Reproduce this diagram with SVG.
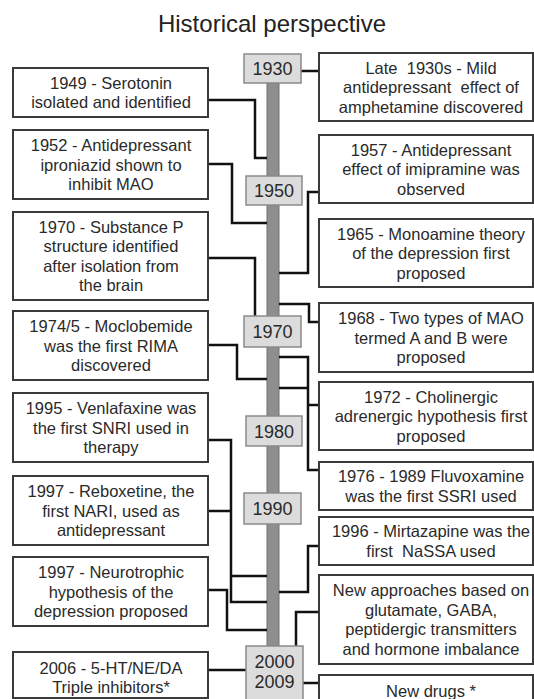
<svg xmlns="http://www.w3.org/2000/svg" width="534" height="699" viewBox="0 0 534 699">
<style>
  .box { fill: #ffffff; stroke: #3a3a3a; stroke-width: 2; }
  .yr { fill: #dcdcdc; stroke: #8a8a8a; stroke-width: 1.5; }
  .t { font-family: "Liberation Sans", Arial, sans-serif; font-size: 16.5px; fill: #2a2a2a; text-anchor: middle; white-space: pre; }
  .yt { font-family: "Liberation Sans", Arial, sans-serif; font-size: 18px; fill: #2a2a2a; text-anchor: middle; }
  .title { font-family: "Liberation Sans", Arial, sans-serif; font-size: 24px; fill: #222; text-anchor: middle; }
  .c { fill: none; stroke: #111; stroke-width: 2.5; stroke-linejoin: miter; stroke-linecap: butt; }
</style>
<rect width="534" height="699" fill="#ffffff"/>
<text class="title" x="272" y="32">Historical perspective</text>

<g id="spine">
  <rect x="267" y="83" width="12" height="565" fill="#8e8e8e" stroke="#707070" stroke-width="1"/>
</g>

<g id="connectors">
  <path class="c" d="M208,100 H255 V158 H267"/>
  <path class="c" d="M208,164 H232 V223 H267"/>
  <path class="c" d="M301,71 H319"/>
  <path class="c" d="M319,192 H308 V273 H279"/>
  <path class="c" d="M208,258 H255 V316"/>
  <path class="c" d="M279,304 H309 V322 H319"/>
  <path class="c" d="M208,345 H237 V379 H267"/>
  <path class="c" d="M279,357 H308 V470 H319 M279,388 H308 M308,405 H319"/>
  <path class="c" d="M208,440 H231 V602 H267 M208,511 H231 M231,576 H267"/>
  <path class="c" d="M208,590 H227 V630 H267"/>
  <path class="c" d="M319,546 H308 V592 H279"/>
  <path class="c" d="M319,612 H296 V646"/>
  <path class="c" d="M208,670 H246"/>
  <path class="c" d="M303,683 H319"/>
</g>

<g id="y1930"><rect class="yr" x="244" y="54" width="57" height="29"/><text class="yt" x="272.5" y="75">1930</text></g>
<g id="y1950"><rect class="yr" x="246" y="176" width="56" height="29"/><text class="yt" x="274" y="197">1950</text></g>
<g id="y1970"><rect class="yr" x="244" y="316" width="57" height="31"/><text class="yt" x="272.5" y="338">1970</text></g>
<g id="y1980"><rect class="yr" x="246" y="416" width="56" height="30"/><text class="yt" x="274" y="437.5">1980</text></g>
<g id="y1990"><rect class="yr" x="244" y="493" width="57" height="31"/><text class="yt" x="272.5" y="515">1990</text></g>
<g id="y2000"><rect class="yr" x="246" y="646" width="57" height="60"/><text class="yt" x="274.5" y="668">2000</text><text class="yt" x="274.5" y="688">2009</text></g>

<g id="l1949"><rect class="box" x="13" y="68" width="195" height="49"/>
  <text class="t" x="111" y="88.75">1949 - Serotonin</text><text class="t" x="111" y="108.25">isolated and identified</text></g>
<g id="l1952"><rect class="box" x="13" y="130" width="195" height="69"/>
  <text class="t" x="111" y="151">1952 - Antidepressant</text><text class="t" x="111" y="170.5">iproniazid shown to</text><text class="t" x="111" y="190">inhibit MAO</text></g>
<g id="l1970"><rect class="box" x="13" y="212" width="195" height="88"/>
  <text class="t" x="111" y="232.75">1970 - Substance P</text><text class="t" x="111" y="252.25">structure identified</text><text class="t" x="111" y="271.75">after isolation from</text><text class="t" x="111" y="291.25">the brain</text></g>
<g id="l1974"><rect class="box" x="13" y="311" width="195" height="69"/>
  <text class="t" x="111" y="332">1974/5 - Moclobemide</text><text class="t" x="111" y="351.5">was the first RIMA</text><text class="t" x="111" y="371">discovered</text></g>
<g id="l1995"><rect class="box" x="13" y="393" width="195" height="69"/>
  <text class="t" x="111" y="414">1995 - Venlafaxine was</text><text class="t" x="111" y="433.5">the first SNRI used in</text><text class="t" x="111" y="453">therapy</text></g>
<g id="l1997a"><rect class="box" x="13" y="476" width="195" height="69"/>
  <text class="t" x="111" y="497">1997 - Reboxetine, the</text><text class="t" x="111" y="516.5">first NARI, used as</text><text class="t" x="111" y="536">antidepressant</text></g>
<g id="l1997b"><rect class="box" x="13" y="557" width="195" height="69"/>
  <text class="t" x="111" y="578">1997 - Neurotrophic</text><text class="t" x="111" y="597.5">hypothesis of the</text><text class="t" x="111" y="617">depression proposed</text></g>
<g id="l2006"><rect class="box" x="13" y="652" width="195" height="46"/>
  <text class="t" x="111" y="674">2006 - 5-HT/NE/DA</text><text class="t" x="111" y="693">Triple inhibitors*</text></g>

<g id="r1930"><rect class="box" x="319" y="53" width="214" height="68"/>
  <text class="t" x="431" y="73.5">Late  1930s - Mild</text><text class="t" x="431" y="93">antidepressant  effect of</text><text class="t" x="431" y="112.5">amphetamine discovered</text></g>
<g id="r1957"><rect class="box" x="319" y="135" width="214" height="68"/>
  <text class="t" x="431" y="155.5">1957 - Antidepressant</text><text class="t" x="431" y="175">effect of imipramine was</text><text class="t" x="431" y="194.5">observed</text></g>
<g id="r1965"><rect class="box" x="319" y="219" width="214" height="68"/>
  <text class="t" x="431" y="239.5">1965 - Monoamine theory</text><text class="t" x="431" y="259">of the depression first</text><text class="t" x="431" y="278.5">proposed</text></g>
<g id="r1968"><rect class="box" x="319" y="303" width="214" height="69"/>
  <text class="t" x="431" y="324">1968 - Two types of MAO</text><text class="t" x="431" y="343.5">termed A and B were</text><text class="t" x="431" y="363">proposed</text></g>
<g id="r1972"><rect class="box" x="319" y="382" width="214" height="68"/>
  <text class="t" x="431" y="402.5">1972 - Cholinergic</text><text class="t" x="431" y="422">adrenergic hypothesis first</text><text class="t" x="431" y="441.5">proposed</text></g>
<g id="r1976"><rect class="box" x="319" y="462" width="214" height="48"/>
  <text class="t" x="431" y="482.25">1976 - 1989 Fluvoxamine</text><text class="t" x="431" y="501.75">was the first SSRI used</text></g>
<g id="r1996"><rect class="box" x="319" y="517" width="214" height="48"/>
  <text class="t" x="431" y="537.25">1996 - Mirtazapine was the</text><text class="t" x="431" y="556.75">first  NaSSA used</text></g>
<g id="rnew"><rect class="box" x="319" y="575" width="214" height="89"/>
  <text class="t" x="431" y="596.25">New approaches based on</text><text class="t" x="431" y="615.75">glutamate, GABA,</text><text class="t" x="431" y="635.25">peptidergic transmitters</text><text class="t" x="431" y="654.75">and hormone imbalance</text></g>
<g id="rdrugs"><rect class="box" x="319" y="675" width="214" height="40"/>
  <text class="t" x="431" y="697">New drugs *</text></g>
</svg>
